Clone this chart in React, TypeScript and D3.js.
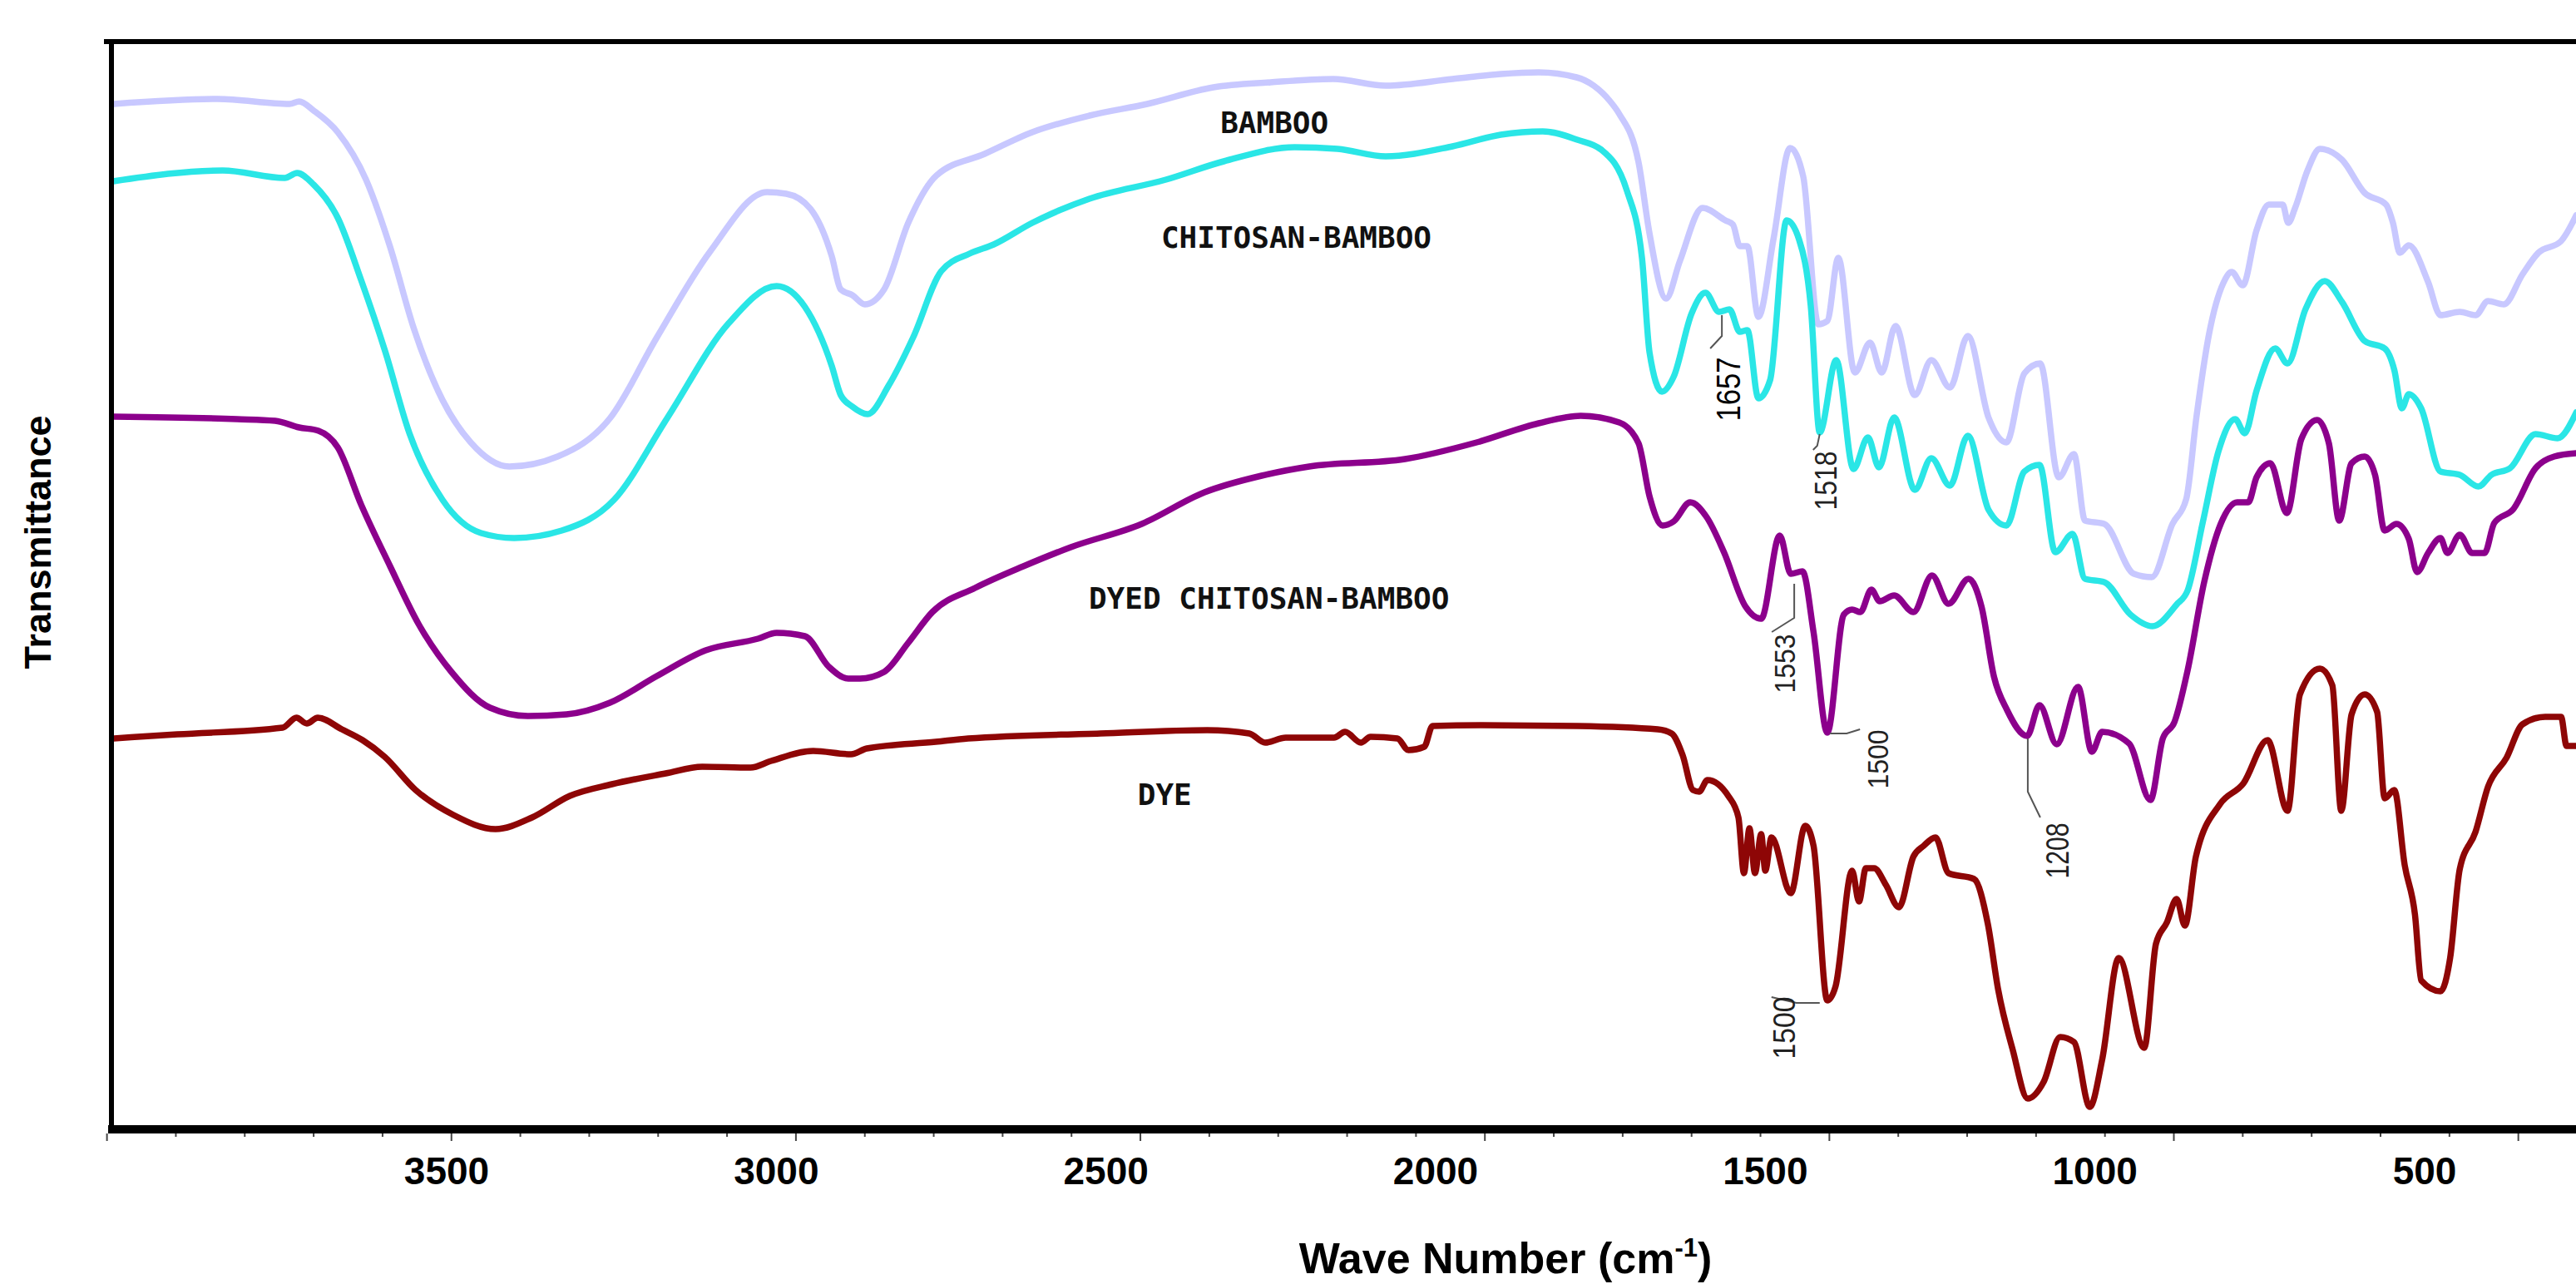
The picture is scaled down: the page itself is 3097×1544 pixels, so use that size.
import React from 'react';
import * as d3 from 'd3';

// FTIR spectra, [wavenumber cm-1, transmittance (a.u.)]
const bamboo: [number, number][] = [
  [3991, 123.3], [3839, 123.9], [3735, 123.3], [3721, 123.6], [3700, 122.5], [3665, 119.9], [3624, 114.2],
  [3589, 106.1], [3555, 96.4], [3513, 87.7], [3472, 82.6], [3416, 79.7], [3346, 80.9], [3270, 85.5],
  [3202, 95.2], [3125, 105.5], [3042, 112.7], [3014, 112.5], [2979, 110.7], [2948, 105.0], [2935, 101.0],
  [2918, 100.3], [2900, 99.2], [2872, 101.0], [2837, 109.0], [2796, 114.7], [2726, 117.3], [2657, 119.9],
  [2574, 121.9], [2490, 123.3], [2394, 125.3], [2311, 125.9], [2220, 126.3], [2144, 125.5], [2047, 126.3],
  [1977, 126.9], [1922, 127.1], [1867, 126.5], [1842, 125.5], [1818, 123.6], [1805, 122.1], [1777, 116.3],
  [1761, 107.7], [1737, 99.9], [1717, 104.4], [1684, 110.8], [1651, 109.3], [1640, 108.8], [1630, 106.2],
  [1619, 106.2], [1603, 97.7], [1581, 107.1], [1557, 118.0], [1538, 114.6], [1516, 96.8], [1503, 97.2],
  [1487, 104.8], [1463, 91.0], [1441, 94.6], [1424, 91.0], [1404, 96.6], [1376, 88.3], [1352, 92.5],
  [1325, 89.2], [1299, 95.4], [1269, 85.6], [1243, 82.6], [1217, 90.9], [1194, 92.1], [1167, 78.4],
  [1145, 81.2], [1129, 73.2], [1101, 72.8], [1058, 66.8], [1032, 66.4], [1002, 72.8], [982, 75.8],
  [967, 85.8], [949, 95.6], [928, 101.8], [916, 103.1], [900, 101.5], [880, 108.1], [862, 111.2],
  [842, 111.2], [834, 109.0], [824, 110.8], [806, 115.3], [788, 117.9], [756, 116.6], [723, 112.6],
  [692, 111.2], [682, 109.0], [672, 105.4], [659, 106.3], [631, 101.9], [613, 97.9], [585, 98.3],
  [562, 97.9], [544, 99.6], [521, 99.2], [494, 102.8], [471, 105.4], [438, 106.8], [416, 109.9],
];

const chitosanBamboo: [number, number][] = [
  [3991, 114.0], [3832, 115.3], [3742, 114.4], [3724, 115.0], [3700, 113.6], [3665, 109.6], [3631, 102.1],
  [3596, 93.5], [3561, 83.7], [3513, 75.7], [3457, 71.7], [3409, 71.1], [3340, 72.0], [3264, 75.7],
  [3187, 85.5], [3098, 96.9], [3028, 101.4], [2987, 98.9], [2948, 91.8], [2935, 88.3], [2918, 86.9],
  [2896, 86.0], [2865, 89.5], [2830, 95.2], [2789, 103.2], [2748, 105.3], [2713, 106.4], [2657, 109.0],
  [2574, 111.9], [2463, 114.2], [2379, 116.4], [2276, 118.1], [2214, 117.9], [2144, 117.0], [2047, 118.2],
  [1977, 119.6], [1916, 120.0], [1866, 119.0], [1831, 117.8], [1794, 112.9], [1772, 104.8], [1761, 93.4],
  [1743, 88.7], [1726, 90.5], [1700, 98.1], [1680, 100.6], [1660, 98.3], [1645, 98.6], [1630, 95.9],
  [1619, 96.1], [1603, 87.9], [1586, 90.1], [1562, 109.3], [1544, 107.0], [1527, 99.0], [1514, 83.8],
  [1490, 92.5], [1465, 79.4], [1444, 83.2], [1428, 79.6], [1406, 85.6], [1376, 76.9], [1352, 80.7],
  [1325, 77.4], [1299, 83.4], [1269, 74.5], [1243, 72.6], [1217, 79.1], [1195, 79.9], [1172, 69.4],
  [1147, 71.6], [1129, 66.2], [1101, 65.8], [1063, 61.9], [1031, 60.5], [996, 63.1], [980, 64.8],
  [958, 73.0], [935, 81.6], [911, 85.4], [897, 83.7], [880, 88.8], [853, 93.9], [835, 92.1],
  [809, 98.6], [781, 102.0], [756, 99.5], [723, 94.8], [694, 93.9], [680, 91.3], [669, 86.7],
  [659, 88.4], [641, 86.7], [613, 79.1], [585, 78.7], [558, 77.3], [539, 78.7], [512, 79.5],
  [475, 83.6], [443, 83.1], [416, 86.2],
];

const dyedChitosanBamboo: [number, number][] = [
  [3991, 85.7], [3811, 85.4], [3756, 85.2], [3721, 84.4], [3693, 84.0], [3665, 82.0], [3631, 75.1],
  [3589, 67.7], [3548, 60.8], [3500, 55.0], [3444, 50.7], [3389, 49.7], [3333, 49.9], [3270, 51.3],
  [3202, 54.5], [3131, 57.6], [3055, 59.0], [3028, 59.7], [2987, 59.3], [2952, 55.6], [2924, 54.2],
  [2907, 54.2], [2872, 55.0], [2837, 58.5], [2802, 62.2], [2740, 65.1], [2670, 67.7], [2601, 70.0],
  [2498, 72.8], [2407, 76.6], [2324, 78.6], [2255, 79.7], [2116, 80.6], [2012, 82.6], [1922, 84.9],
  [1861, 85.8], [1805, 85.0], [1777, 82.5], [1761, 76.1], [1742, 72.6], [1726, 73.1], [1702, 75.4],
  [1678, 73.6], [1653, 69.4], [1622, 62.9], [1599, 61.4], [1572, 71.4], [1556, 66.8], [1539, 67.1],
  [1523, 59.8], [1503, 47.7], [1479, 61.9], [1467, 62.5], [1455, 62.2], [1439, 64.9], [1427, 63.5],
  [1406, 64.2], [1378, 62.2], [1351, 66.6], [1327, 63.2], [1298, 66.2], [1279, 62.8], [1261, 54.4],
  [1242, 50.4], [1213, 47.3], [1195, 51.0], [1170, 46.3], [1139, 53.2], [1119, 45.4], [1104, 47.8],
  [1065, 46.4], [1034, 39.6], [1016, 47.0], [999, 49.0], [980, 55.2], [956, 65.8], [932, 72.8],
  [908, 75.4], [892, 75.4], [880, 78.4], [860, 80.1], [836, 74.1], [815, 83.0], [792, 85.3],
  [775, 82.5], [760, 73.2], [742, 80.1], [723, 80.9], [708, 78.7], [694, 72.0], [677, 72.8],
  [659, 71.0], [647, 67.0], [631, 69.3], [613, 71.1], [603, 69.3], [585, 71.5], [567, 69.3],
  [549, 69.3], [535, 72.9], [507, 74.6], [475, 79.5], [448, 80.9], [416, 81.3],
];

const dye: [number, number][] = [
  [3991, 47.0], [3898, 47.5], [3745, 48.3], [3725, 49.5], [3710, 48.8], [3694, 49.5], [3659, 48.1],
  [3629, 46.8], [3597, 44.8], [3552, 40.8], [3497, 37.8], [3436, 36.1], [3383, 37.5], [3328, 40.1],
  [3267, 41.5], [3189, 42.8], [3136, 43.6], [3066, 43.5], [3036, 44.3], [2975, 45.5], [2920, 45.1],
  [2897, 45.8], [2797, 46.6], [2750, 47.0], [2558, 47.6], [2403, 48.0], [2342, 47.6], [2319, 46.5],
  [2289, 47.1], [2219, 47.1], [2203, 47.8], [2180, 46.5], [2166, 47.2], [2127, 47.0], [2111, 45.6],
  [2088, 46.0], [2076, 48.5], [2004, 48.6], [1865, 48.5], [1749, 48.1], [1729, 47.6], [1713, 45.0],
  [1698, 40.8], [1689, 40.6], [1677, 42.0], [1646, 40.0], [1632, 37.5], [1624, 30.8], [1616, 36.2],
  [1608, 30.8], [1599, 35.5], [1593, 31.1], [1584, 35.1], [1556, 28.4], [1535, 36.5], [1523, 34.1],
  [1503, 15.5], [1491, 17.2], [1467, 31.1], [1457, 27.4], [1447, 31.4], [1435, 31.4], [1418, 29.4],
  [1399, 26.7], [1378, 32.8], [1363, 34.1], [1346, 35.1], [1327, 30.8], [1290, 30.1], [1270, 24.7],
  [1255, 16.8], [1234, 9.6], [1212, 3.7], [1189, 5.7], [1165, 11.1], [1145, 10.5], [1122, 2.7],
  [1104, 8.4], [1080, 20.6], [1043, 9.8], [1026, 22.3], [1010, 24.9], [996, 27.7], [984, 24.5],
  [968, 32.8], [933, 39.1], [899, 41.6], [864, 46.8], [835, 38.3], [817, 52.3], [788, 55.4],
  [770, 53.4], [757, 38.3], [742, 49.9], [723, 52.3], [705, 50.2], [694, 39.8], [680, 40.8],
  [665, 31.8], [650, 25.8], [641, 17.9], [613, 16.6], [599, 20.6], [585, 31.3], [562, 35.8],
  [544, 41.2], [517, 44.7], [494, 48.7], [461, 49.6], [438, 49.6], [430, 46.1], [416, 46.1],
];

const seriesNames = ['BAMBOO', 'CHITOSAN-BAMBOO', 'DYED CHITOSAN-BAMBOO', 'DYE'];
const seriesLabelAt: [number, number][] = [[2384, 119.8], [2470, 106.0], [2575, 62.6], [2504, 39.0]];

const xTickLabels = [3500, 3000, 2500, 2000, 1500, 1000, 500];
const minorTicks = d3.range(400, 4001, 100);

const peakLabels = ['1657', '1518', '1553', '1500', '1500', '1208'];
const peakAt: [number, number][] = [[1656, 97.9], [1514, 83.6], [1551, 65.6], [1499, 47.6], [1514, 15.2], [1212, 47.0]];

// leader polyline offsets (px) and label baseline offset / length for each peak label
const peakLayout = [
  { lead: [[0, 0], [0, 25], [-14, 40]], tx: 22, ty: 89, len: 77, size: 40, color: '#000' },
  { lead: [[0, 0], [-3, 14], [-8, 19]], tx: 20, ty: 56, len: 71, size: 37, color: '#222' },
  { lead: [[0, 0], [0, 41], [-27, 58]], tx: 1, ty: 96, len: 71, size: 35, color: '#222' },
  { lead: [[0, 0], [20, 0], [36, -5]], tx: 70, ty: 31, len: 71, size: 35, color: '#222' },
  { lead: [[0, 0], [-28, 0], [-58, -7]], tx: -30, ty: 30, len: 75, size: 36, color: '#222' },
  { lead: [[0, 0], [0, 64], [15, 95]], tx: 49, ty: 135, len: 67, size: 38, color: '#222' },
];

const colors = ['#c8c8ff', '#2ae6e6', '#8c008c', '#8e0606'];

export default function App() {
  const W = 3097, H = 1544;
  const left = 134, top = 50, bottom = 1358;

  const x = d3.scaleLinear().domain([4000, 400]).range([128.6, 3110.5]);
  const y = d3.scaleLinear().domain([0, 131]).range([1358, 48]);
  // the tick numbers in the original figure sit on their own, slightly narrower spacing
  const xLabel = d3.scaleLinear().domain([3500, 500]).range([537, 2915]);

  const line = d3.line<[number, number]>().x(d => x(d[0])).y(d => y(d[1])).curve(d3.curveMonotoneX);
  const series = [bamboo, chitosanBamboo, dyedChitosanBamboo, dye];

  return (
    <svg width={W} height={H} style={{ position: 'absolute', left: 0, top: 0, background: '#fff' }}>
      <defs>
        <clipPath id="plot">
          <rect x={left + 3} y={top + 3} width={W - left} height={bottom - top - 8} />
        </clipPath>
      </defs>

      <g clipPath="url(#plot)">
        {series.map((s, i) => (
          <path key={i} d={line(s) ?? ''} fill="none" stroke={colors[i]}
            strokeWidth={7.5} strokeLinejoin="round" strokeLinecap="round" />
        ))}
      </g>

      {seriesNames.map((n, i) => (
        <text key={n} x={x(seriesLabelAt[i][0])} y={y(seriesLabelAt[i][1])}
          fontFamily="DejaVu Sans Mono" fontWeight="bold" fontSize={36} fill="#111">{n}</text>
      ))}

      {peakLabels.map((p, i) => {
        const ax = x(peakAt[i][0]), ay = y(peakAt[i][1]);
        const L = peakLayout[i];
        const pts = L.lead.map(([dx, dy]) => `${ax + dx},${ay + dy}`).join(' ');
        return (
          <g key={i}>
            <polyline points={pts} fill="none" stroke="#555" strokeWidth={2} />
            <text transform={`translate(${ax + L.tx},${ay + L.ty}) rotate(-90)`} textAnchor="middle"
              fontFamily="Liberation Sans, Arial, sans-serif" fontSize={L.size} fill={L.color}
              textLength={L.len} lengthAdjust="spacingAndGlyphs">{p}</text>
          </g>
        );
      })}

      {/* frame */}
      <line x1={125} x2={W} y1={top} y2={top} stroke="#000" strokeWidth={6} />
      <line x1={left} x2={left} y1={top - 3} y2={bottom} stroke="#000" strokeWidth={6} />

      {/* bottom axis */}
      {minorTicks.map(t => (
        <line key={t} x1={x(t)} x2={x(t)} y1={bottom + 5} y2={bottom + (t % 500 === 0 ? 14 : 9)}
          stroke="#444" strokeWidth={2} />
      ))}
      <line x1={130} x2={W} y1={bottom} y2={bottom} stroke="#000" strokeWidth={10} />
      {xTickLabels.map(t => (
        <text key={t} x={xLabel(t)} y={1424} textAnchor="middle"
          fontFamily="Liberation Sans, Arial, sans-serif" fontWeight="bold" fontSize={46} fill="#000">{t}</text>
      ))}

      <text x={1810} y={1531} textAnchor="middle" fontFamily="Liberation Sans, Arial, sans-serif"
        fontWeight="bold" fontSize={52} fill="#000">
        Wave Number (cm<tspan dy={-20} fontSize={31}>-1</tspan><tspan dy={20}>)</tspan>
      </text>
      <text transform="translate(61,652) rotate(-90)" textAnchor="middle"
        fontFamily="Liberation Sans, Arial, sans-serif" fontWeight="bold" fontSize={45} fill="#000">
        Transmittance
      </text>
    </svg>
  );
}
